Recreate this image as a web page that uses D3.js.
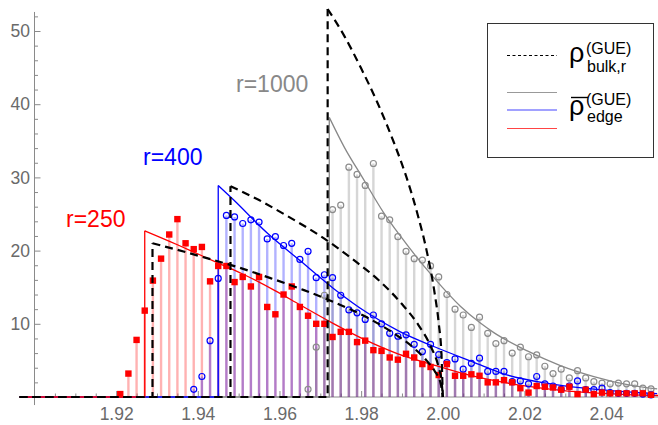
<!DOCTYPE html>
<html>
<head>
<meta charset="utf-8">
<script src="https://d3js.org/d3.v7.min.js"></script>
<style>
  body { margin: 0; background: #fff; }
  svg text { font-family: "Liberation Sans", Arial, sans-serif; }
</style>
</head>
<body>
<div id="chart"></div>
<script>
// bin centres (width 0.002)
var binX = [1.919, 1.921, 1.923, 1.925, 1.927, 1.929, 1.931, 1.933, 1.935, 1.937,
  1.939, 1.941, 1.943, 1.945, 1.947, 1.949, 1.951, 1.953, 1.955, 1.957,
  1.959, 1.961, 1.963, 1.965, 1.967, 1.969, 1.971, 1.973, 1.975, 1.977,
  1.979, 1.981, 1.983, 1.985, 1.987, 1.989, 1.991, 1.993, 1.995, 1.997,
  1.999, 2.001, 2.003, 2.005, 2.007, 2.009, 2.011, 2.013, 2.015, 2.017,
  2.019, 2.021, 2.023, 2.025, 2.027, 2.029, 2.031, 2.033, 2.035, 2.037,
  2.039, 2.041, 2.043, 2.045, 2.047, 2.049, 2.051];

var hist250 = [0, 0.4, 3.2, 7.8, 11.8, 15.9, 18.9, 22.2, 24.3, 21.0,
  20.2, 20.5, 15.8, 17.9, 17.9, 15.7, 16.4, 15.1, 16.4, 12.3,
  11.3, 14.0, 15.1, 12.3, 11.1, 10.0, 10.0, 8.2, 8.9, 8.9,
  7.5, 7.7, 6.4, 6.3, 5.4, 5.1, 5.9, 5.4, 4.5, 4.1,
  3.0, 4.5, 2.9, 2.9, 3.1, 2.9, 2.0, 2.0, 2.3, 2.0,
  1.2, 0.6, 1.5, 1.4, 1.3, 1.0, 1.4, 0.4, 1.0, 0.4,
  0.6, 0.5, 0.5, 0.5, 0.5, 0.5, 0.3];

var hist400 = [0, 0, 0, 0, 0, 0, 0, 0, 0, 0,
  1.05, 2.8, 7.7, 16.2, 24.8, 24.6, 23.7, 24.2, 23.9, 21.6,
  21.9, 20.7, 21.0, 18.8, 19.9, 16.3, 16.7, 16.3, 13.9, 11.9,
  11.5, 10.6, 11.2, 10.0, 8.7, 8.3, 8.5, 7.2, 6.2, 7.2,
  5.8, 4.7, 5.2, 3.8, 4.6, 5.3, 3.5, 3.5, 3.5, 2.1,
  2.2, 1.8, 2.8, 1.8, 1.5, 1.05, 1.5, 2.2, 1.0, 1.0,
  1.2, 0.6, 0.5, 0.5, 0.5, 0.4, 0.3];

var hist1000 = [0, 0, 0, 0, 0, 0, 0, 0, 0, 0,
  0, 0, 0, 0, 0, 0, 0, 0, 0, 0,
  0, 0, 0, 0, 1.05, 6.8, 13.9, 25.6, 26.2, 31.4,
  30.4, 28.9, 31.9, 24.7, 24.2, 21.9, 19.9, 18.9, 18.7, 17.9,
  16.4, 14.0, 12.0, 11.2, 9.5, 10.9, 8.7, 7.3, 7.7, 6.0,
  6.8, 5.5, 5.75, 4.2, 3.2, 3.8, 2.6, 3.6, 2.6, 2.1,
  1.9, 1.8, 1.9, 1.8, 1.8, 1.2, 1.1];

// edge densities [x, rho]
var edge250 = [[1.927, 22.7], [1.935, 20.8], [1.941, 19.3], [1.945, 18.3], [1.951, 16.8],
  [1.959, 14.5], [1.965, 12.6], [1.973, 10.1], [1.981, 7.8], [1.989, 5.9], [1.997, 4.5],
  [2.005, 3.2], [2.013, 2.2], [2.021, 1.45], [2.029, 0.9], [2.037, 0.55], [2.045, 0.33], [2.053, 0.2]];
var edge400 = [[1.945, 28.9], [1.9488, 26.9], [1.957, 22.4], [1.9651, 18.6], [1.9733, 14.8],
  [1.9815, 11.5], [1.9896, 8.9], [1.9978, 6.9], [2.0092, 4.4], [2.0141, 3.3], [2.0264, 1.8],
  [2.0386, 1.0], [2.0525, 0.45]];
var edge1000 = [[1.9722, 38.2], [1.976, 34.0], [1.9803, 30.0], [1.9855, 25.2], [1.9896, 22.0],
  [1.9978, 16.3], [2.0043, 12.4], [2.0092, 10.1], [2.0125, 8.8], [2.0207, 6.3], [2.0288, 4.3],
  [2.037, 2.8], [2.0452, 1.7], [2.0525, 1.1]];

// bulk densities [x, rho]
var bulk250 = [[1.9289, 21.0], [1.935, 20.1], [1.942, 19.0], [1.950, 17.7], [1.958, 16.2],
  [1.966, 14.6], [1.974, 12.8], [1.982, 10.7], [1.988, 8.7], [1.993, 6.65], [1.996, 5.0],
  [1.998, 3.56], [1.9995, 1.78], [2.000, 0]];
var bulk400 = [[1.948, 28.8], [1.955, 26.9], [1.962, 24.7], [1.970, 22.0], [1.978, 18.8],
  [1.985, 15.6], [1.990, 12.7], [1.994, 9.86], [1.997, 6.97], [1.999, 4.03], [1.9997, 2.2], [2.000, 0]];
var bulk1000 = [[1.9718, 53.0], [1.976, 49.2], [1.980, 44.9], [1.984, 40.2], [1.988, 34.8],
  [1.991, 30.2], [1.994, 24.6], [1.996, 20.1], [1.998, 14.2], [1.999, 10.1], [1.9997, 5.5], [2.000, 0]];

var xTicks = [1.92, 1.94, 1.96, 1.98, 2.00, 2.02, 2.04];
var yTicks = [10, 20, 30, 40, 50];

var width = 658, height = 425;
var xLeft = 1.8963, xRight = 2.0535;

var x = d3.scaleLinear().domain([1.90, 2.04]).range([34.5, 606.1]);
var y = d3.scaleLinear().domain([0, 50]).range([397, 31]);

var svg = d3.select("#chart").append("svg")
  .attr("width", width).attr("height", height)
  .style("display", "block").style("background", "#fff");

svg.append("defs").append("clipPath").attr("id", "clip")
  .append("rect").attr("x", x(xLeft)).attr("y", 8)
  .attr("width", width - x(xLeft)).attr("height", 400);

// axes
svg.append("line")
  .attr("x1", x(xLeft)).attr("x2", width).attr("y1", y(0)).attr("y2", y(0))
  .attr("stroke", "#8a8a8a").attr("stroke-width", 1);
svg.append("line")
  .attr("x1", x(1.90)).attr("x2", x(1.90)).attr("y1", y(52.6)).attr("y2", y(-1.1))
  .attr("stroke", "#8a8a8a").attr("stroke-width", 1);

var fmt = d3.format(".2f");
var gx = svg.append("g").attr("transform", "translate(0," + y(0) + ")")
  .call(d3.axisBottom(x).tickValues(xTicks).tickFormat(fmt).tickSize(-6).tickPadding(10.6));
var gxm = svg.append("g").attr("transform", "translate(0," + y(0) + ")")
  .call(d3.axisBottom(x).tickValues(d3.range(1.905, 2.052, 0.005).filter(function (v) {
      return Math.abs(v * 50 - Math.round(v * 50)) > 1e-6; }))
    .tickFormat("").tickSize(-3.5));
var gy = svg.append("g").attr("transform", "translate(" + x(1.90) + ",0)")
  .call(d3.axisLeft(y).tickValues(yTicks).tickSize(-6).tickPadding(4.5));
var gym = svg.append("g").attr("transform", "translate(" + x(1.90) + ",0)")
  .call(d3.axisLeft(y).tickValues([2, 4, 6, 8, 12, 14, 16, 18, 22, 24, 26, 28, 32, 34, 36, 38, 42, 44, 46, 48, 52])
    .tickFormat("").tickSize(-3.5));
[gx, gxm, gy, gym].forEach(function (g) {
  g.select(".domain").remove();
  g.selectAll("line").attr("stroke", "#8a8a8a");
  g.selectAll("text").attr("fill", "#6a6a6a").style("font-size", "17.5px")
    .style("font-family", "'Liberation Sans', Arial, sans-serif");
});

var plot = svg.append("g").attr("clip-path", "url(#clip)");

// stems
function stems(vals, color) {
  plot.append("g").selectAll("line")
    .data(binX.map(function (b, i) { return [b, vals[i]]; }).filter(function (d) { return d[1] > 0; }))
    .enter().append("line")
    .attr("x1", function (d) { return x(d[0]); }).attr("x2", function (d) { return x(d[0]); })
    .attr("y1", y(0)).attr("y2", function (d) { return y(d[1]); })
    .attr("stroke", color).attr("stroke-width", 2.4);
}
stems(hist250, "rgba(255,0,0,0.3)");
stems(hist400, "rgba(0,0,255,0.3)");
stems(hist1000, "rgba(120,120,120,0.3)");

// theory curves: flat zero, vertical jump, then decaying curve
var lin = d3.line().x(function (d) { return x(d[0]); }).y(function (d) { return y(d[1]); });
var smooth = d3.line().curve(d3.curveMonotoneX)
  .x(function (d) { return x(d[0]); }).y(function (d) { return y(d[1]); });

function curve(pts, color, w, dash) {
  var x0 = pts[0][0];
  var p1 = plot.append("path").attr("d", lin([[xLeft, 0], [x0, 0], pts[0]]));
  var p2 = plot.append("path").attr("d", smooth(pts));
  [p1, p2].forEach(function (p) {
    p.attr("fill", "none").attr("stroke", color).attr("stroke-width", w);
    if (dash) p.attr("stroke-dasharray", dash);
  });
}

// points
function squares(vals, color) {
  plot.append("g").selectAll("rect")
    .data(binX.map(function (b, i) { return [b, vals[i]]; }).filter(function (d) { return d[1] > 0; }))
    .enter().append("rect")
    .attr("x", function (d) { return x(d[0]) - 3.2; }).attr("y", function (d) { return y(d[1]) - 3.2; })
    .attr("width", 6.4).attr("height", 6.4).attr("fill", color);
}
function circles(vals, color) {
  plot.append("g").selectAll("circle")
    .data(binX.map(function (b, i) { return [b, vals[i]]; }).filter(function (d) { return d[1] > 0; }))
    .enter().append("circle")
    .attr("cx", function (d) { return x(d[0]); }).attr("cy", function (d) { return y(d[1]); })
    .attr("r", 3).attr("fill", "none").attr("stroke", color).attr("stroke-width", 1.2);
}

curve(edge1000, "#888888", 1.3);
curve(edge400, "#0000ff", 1.3);
curve(edge250, "#ff0000", 1.3);

circles(hist1000, "#8c8c8c");
circles(hist400, "#0000ff");
squares(hist250, "#ff0000");

curve(bulk1000, "#000", 2.2, "8,5");
curve(bulk400, "#000", 2.2, "8,5");
curve(bulk250, "#000", 2.2, "8,5");

// r labels
svg.append("text").attr("x", 66).attr("y", 227).attr("fill", "#ff0000")
  .style("font-size", "23px").text("r=250");
svg.append("text").attr("x", 143).attr("y", 165).attr("fill", "#0000ff")
  .style("font-size", "23px").text("r=400");
svg.append("text").attr("x", 236).attr("y", 92).attr("fill", "#888888")
  .style("font-size", "23px").text("r=1000");

// legend
var lg = svg.append("g");
lg.append("rect").attr("x", 487.5).attr("y", 23.5).attr("width", 166).attr("height", 134)
  .attr("fill", "#fff").attr("stroke", "#333").attr("stroke-width", 1);
lg.append("line").attr("x1", 507).attr("x2", 557).attr("y1", 55.5).attr("y2", 55.5)
  .attr("stroke", "#000").attr("stroke-width", 1).attr("stroke-dasharray", "3,2.5");
[["#999999", 92.5], ["#4444ff", 110], ["#ff4444", 128.5]].forEach(function (d) {
  lg.append("line").attr("x1", 507).attr("x2", 557).attr("y1", d[1]).attr("y2", d[1])
    .attr("stroke", d[0]).attr("stroke-width", 1.2);
});
var t1 = lg.append("text").attr("x", 569).attr("y", 62).attr("fill", "#000");
t1.append("tspan").style("font-size", "27px").text("ρ");
t1.append("tspan").attr("x", 586).attr("y", 53.5).style("font-size", "16px").text("(GUE)");
t1.append("tspan").attr("x", 587).attr("y", 72).style("font-size", "16px").text("bulk,r");

var t2 = lg.append("text").attr("x", 569).attr("y", 115).attr("fill", "#000");
t2.append("tspan").style("font-size", "27px").text("ρ");
t2.append("tspan").attr("x", 586).attr("y", 104.5).style("font-size", "16px").text("(GUE)");
t2.append("tspan").attr("x", 587).attr("y", 122).style("font-size", "16px").text("edge");
lg.append("line").attr("x1", 571).attr("x2", 588).attr("y1", 97.5).attr("y2", 97.5)
  .attr("stroke", "#000").attr("stroke-width", 1.4);
</script>
</body>
</html>
